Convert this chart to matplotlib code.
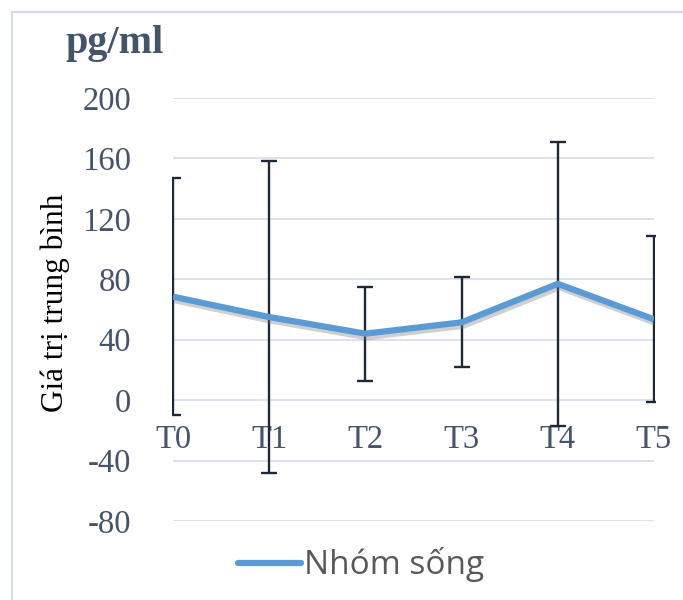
import matplotlib
matplotlib.use("Agg")
import matplotlib.pyplot as plt
import matplotlib.patheffects as pe
from matplotlib.lines import Line2D
from matplotlib.patches import Rectangle

categories = ["T0", "T1", "T2", "T3", "T4", "T5"]
means = [68.5, 55, 44, 51.5, 77, 53.5]
errors = [78.5, 103.5, 31, 29.8, 94, 55]
yticks = [-80, -40, 0, 40, 80, 120, 160, 200]
series_name = "Nhóm sống"

tick_color = "#44546A"
err_color = "#1F2838"
line_color = "#5B9BD5"
grid_color = "#D9E1EA"

fig = plt.figure(figsize=(6.83, 6.0), dpi=100)
ax = fig.add_axes([173/683, 1-521/600, (654-173)/683, (521-98)/600])

x = list(range(len(categories)))
eb = ax.errorbar(x, means, yerr=errors, fmt="none", ecolor=err_color,
                 elinewidth=1.7, capsize=5.5, capthick=1.7, zorder=3)
ax.set_xlim(0, len(categories)-1)
ax.set_ylim(-80, 200)
clip = Rectangle((-0.015, -200), len(categories)-1+0.03, 500, transform=ax.transData,
                 visible=False)
ax.add_patch(clip)
for art in list(eb.lines[1]) + list(eb.lines[2]):
    art.set_clip_path(clip)

ax.plot(x, means, color=line_color, lw=4.5, solid_capstyle="butt", zorder=4,
        path_effects=[pe.SimpleLineShadow(offset=(1.0, -2.5), shadow_color="#777777", alpha=0.35),
                      pe.Normal()])

ax.set_yticks(yticks)
ax.set_yticklabels([str(v) for v in yticks], fontfamily="Liberation Serif",
                   fontsize=23.5, color=tick_color)
ax.tick_params(axis="y", length=0, pad=30)
ax.set_xticks([])
for s in ax.spines.values():
    s.set_visible(False)
ax.grid(axis="y", color=grid_color, lw=1.3)
ax.set_axisbelow(True)

for xi, lab in zip(x, categories):
    ax.annotate(lab, (xi, 0), xytext=(0, -40), textcoords="offset pixels",
                ha="center", va="center", fontfamily="Liberation Serif",
                fontsize=23.5, color=tick_color, zorder=2)

fig.text(55/683, 1-303/600, "Giá trị trung bình", rotation=90, ha="center", va="center",
         fontfamily="Liberation Serif", fontsize=22.5, color="black")
fig.text(65/683, 1-53/600, "pg/ml", ha="left", va="baseline",
         fontfamily="Liberation Serif", fontweight="bold", fontsize=29, color=tick_color)

handle = Line2D([], [], color=line_color, lw=4.5, solid_capstyle="round")
leg = fig.legend([handle], [series_name], loc="center", bbox_to_anchor=(361/683, 1-565/600),
                 frameon=False, handlelength=1.9, handletextpad=0.1,
                 prop={"family": ["Open Sans", "DejaVu Sans"], "size": 24})
for t in leg.get_texts():
    t.set_color("#595959")

# outer border (top and left)
fig.add_artist(Line2D([12/683, 1], [1-12/600, 1-12/600], color="#D6DCE6", lw=1.5,
                      transform=fig.transFigure))
fig.add_artist(Line2D([12/683, 12/683], [0, 1-12/600], color="#D6DCE6", lw=1.5,
                      transform=fig.transFigure))

fig.savefig("out.png", dpi=100)
